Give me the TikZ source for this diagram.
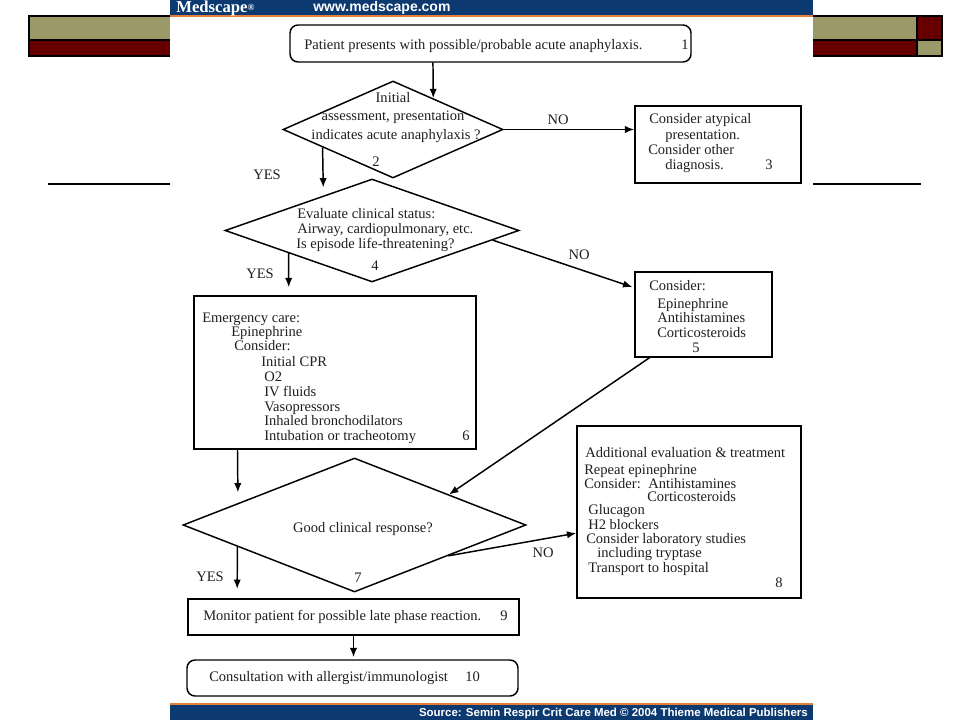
\documentclass[tikz,border=0pt]{standalone}
\usepackage{fontspec}
\setmainfont{Liberation Serif}
\newfontfamily\hdrsans{Liberation Sans}
\usetikzlibrary{shapes.geometric,arrows.meta,calc}
\definecolor{msblue}{RGB}{12,58,112}
\definecolor{msorange}{RGB}{226,128,58}
\definecolor{olive}{RGB}{155,153,104}
\definecolor{darkred}{RGB}{102,0,0}
\tikzset{
  box/.style={draw=black, line width=1.1pt, rectangle, inner sep=0pt},
  rbox/.style={box, rounded corners=6pt},
  dia/.style={draw=black, line width=1.1pt, diamond, inner sep=0pt, aspect=2},
  txt/.style={anchor=base west, inner sep=0pt, font=\fontsize{10.9}{12}\selectfont, text=black!88},
  ctxt/.style={anchor=base, inner sep=0pt, font=\fontsize{10.9}{12}\selectfont, text=black!88},
  arr/.style={line width=1.1pt, -{Latex[length=7pt,width=5.5pt]}},
  deco/.style={draw=black, line width=0.8pt}
}
\begin{document}
\begin{tikzpicture}[x=0.75pt,y=-0.75pt]
\useasboundingbox (0,0) rectangle (960,720);
\fill[white] (0,0) rectangle (960,720);
% decorations
\fill[olive] (29,16) rectangle (170,40);
\fill[darkred] (29,40) rectangle (170,56);
\draw[deco] (170,16) -- (29,16) -- (29,56) -- (170,56);
\draw[deco] (29,40) -- (170,40);
\fill[olive] (813,16) rectangle (917,40);
\fill[darkred] (917,16) rectangle (942,40);
\fill[darkred] (813,40) rectangle (917,56);
\fill[olive] (917,40) rectangle (942,56);
\draw[deco] (813,16) -- (942,16) -- (942,56) -- (813,56);
\draw[deco] (813,40) -- (942,40) (917,16) -- (917,56);
\draw[line width=1pt] (48,184) -- (170,184);
\draw[line width=1pt] (813,184) -- (921,184);
% header banner
\fill[msblue] (170,0) rectangle (813,15);
\fill[msorange] (170,15) rectangle (813,17);
\node[anchor=base west, inner sep=0pt, text=white, font=\fontsize{12.5}{13}\selectfont\bfseries] (logo) at (176,12.5) {Medscape\raisebox{0.25ex}{\fontsize{7}{7}\selectfont®}};
\node[anchor=base west, inner sep=0pt, text=white, font=\hdrsans\fontsize{10.5}{12}\selectfont\bfseries] (url) at (313,12) {www.medscape.com};
% footer banner
\fill[msorange] (170,703) rectangle (813,705);
\fill[msblue] (170,705) rectangle (813,720);
\node[anchor=base east, inner sep=0pt, text=white, font=\hdrsans\fontsize{8.6}{9}\selectfont\bfseries] (src) at (808,716.5) {Source: Semin Respir Crit Care Med © 2004 Thieme Medical Publishers};

% shapes
\node[rbox, minimum width=300.75pt, minimum height=27.75pt] (b1) at (490.5,43.5) {};
\node[dia, minimum width=165pt, minimum height=72.75pt] (d2) at (393,129.5) {};
\node[box, minimum width=124.5pt, minimum height=57.75pt] (b3) at (718,144.5) {};
\node[dia, minimum width=220.5pt, minimum height=77.25pt] (d4) at (372,230.5) {};
\node[box, minimum width=102.75pt, minimum height=63.75pt] (b5) at (703.5,314.5) {};
\node[box, minimum width=211.5pt, minimum height=114.75pt] (b6) at (335,372.5) {};
\node[dia, minimum width=257.25pt, minimum height=100.5pt] (d7) at (354.5,525) {};
\node[box, minimum width=168pt, minimum height=129pt] (b8) at (689,512) {};
\node[box, minimum width=248.25pt, minimum height=27pt] (b9) at (353.5,617) {};
\node[rbox, minimum width=248.25pt, minimum height=27pt] (b10) at (352.5,678) {};

% texts
\node[txt] (t1) at (304,50) {Patient presents with possible/probable acute anaphylaxis.};
\node[txt] (n1) at (681,50) {1};

\node[ctxt] (t2a) at (393,103) {Initial};
\node[ctxt] (t2b) at (393,121) {assessment, presentation};
\node[ctxt] (t2c) at (396,140) {indicates acute anaphylaxis ?};
\node[txt] (n2) at (372,167) {2};

\node[txt] (t3a) at (649,124) {Consider atypical};
\node[txt] (t3b) at (665,140) {presentation.};
\node[txt] (t3c) at (648,155) {Consider other};
\node[txt] (t3d) at (665,170) {diagnosis.};
\node[txt] (n3) at (765,170) {3};

\node[txt] (t4a) at (297,219) {Evaluate clinical status:};
\node[txt] (t4b) at (297,234) {Airway, cardiopulmonary, etc.};
\node[txt] (t4c) at (296,249) {Is episode life-threatening?};
\node[txt] (n4) at (371,271) {4};

\node[txt] (t5a) at (649,291) {Consider:};
\node[txt] (t5b) at (657,309) {Epinephrine};
\node[txt] (t5c) at (657,322) {Antihistamines};
\node[txt] (t5d) at (657,337) {Corticosteroids};
\node[txt] (n5) at (692,352) {5};

\node[txt] (t6a) at (202,322) {Emergency care:};
\node[txt] (t6b) at (231,336) {Epinephrine};
\node[txt] (t6c) at (234,350) {Consider:};
\node[txt] (t6d) at (261,366) {Initial CPR};
\node[txt] (t6e) at (264,381) {O2};
\node[txt] (t6f) at (264,396) {IV fluids};
\node[txt] (t6g) at (264,411) {Vasopressors};
\node[txt] (t6h) at (264,425) {Inhaled bronchodilators};
\node[txt] (t6i) at (264,440) {Intubation or tracheotomy};
\node[txt] (n6) at (462,440) {6};

\node[ctxt] (t7) at (363,532) {Good clinical response?};
\node[txt] (n7) at (354,582) {7};

\node[txt] (t8a) at (585,457) {Additional evaluation \& treatment};
\node[txt] (t8b) at (584,474) {Repeat epinephrine};
\node[txt] (t8c) at (584,488) {Consider:};
\node[txt] (t8c2) at (648,488) {Antihistamines};
\node[txt] (t8d) at (647,501) {Corticosteroids};
\node[txt] (t8e) at (588,514) {Glucagon};
\node[txt] (t8f) at (588,529) {H2 blockers};
\node[txt] (t8g) at (586,543) {Consider laboratory studies};
\node[txt] (t8h) at (597,557) {including tryptase};
\node[txt] (t8i) at (588,572) {Transport to hospital};
\node[txt] (n8) at (775,587) {8};

\node[txt] (t9) at (203,620) {Monitor patient for possible late phase reaction.};
\node[txt] (n9) at (500,620) {9};

\node[txt] (t10) at (209,681) {Consultation with allergist/immunologist};
\node[txt] (n10) at (465,681) {10};

% labels
\node[ctxt] (no2) at (558,125) {NO};
\node[ctxt] (yes2) at (267,180) {YES};
\node[ctxt] (yes4) at (260,279) {YES};
\node[ctxt] (no4) at (579,260) {NO};
\node[ctxt] (yes7) at (210,581) {YES};
\node[ctxt] (no7) at (543,557) {NO};

% connectors
\draw[arr] ($(b1.south west)!0.357!(b1.south east)$) -- ($(d2.north)!0.364!(d2.east)$);
\draw[arr] (d2.east) -- (d2.east -| b3.west);
\draw[arr, shorten >=6pt] ($(d2.west)!0.364!(d2.south)$) -- ($(d4.west)!0.671!(d4.north)$);
\draw[arr, shorten >=6pt] ($(d4.west)!0.435!(d4.south)$) -- ($(b6.north west)!0.337!(b6.north east)$);
\draw[arr, shorten >=1.5pt] ($(d4.east)!0.184!(d4.south)$) -- ($(b5.north west)!0.19!(b5.south west)$);
\draw[arr] ($(b5.south west)!0.11!(b5.south east)$) -- ($(d7.north)!0.549!(d7.east)$);
\draw[arr, shorten >=8pt] ($(b6.south west)!0.156!(b6.south east)$) -- ($(d7.west)!0.3235!(d7.north)$);
\draw[arr, shorten >=7pt] ($(d7.west)!0.32!(d7.south)$) -- ($(b9.north west)!0.15!(b9.north east)$);
\draw[arr] ($(d7.east)!0.455!(d7.south)$) -- ($(b8.north west)!0.622!(b8.south west)$);
\draw[arr, shorten >=1.5pt] (b9.south) -- (b9.south |- b10.north);
\end{tikzpicture}
\end{document}
